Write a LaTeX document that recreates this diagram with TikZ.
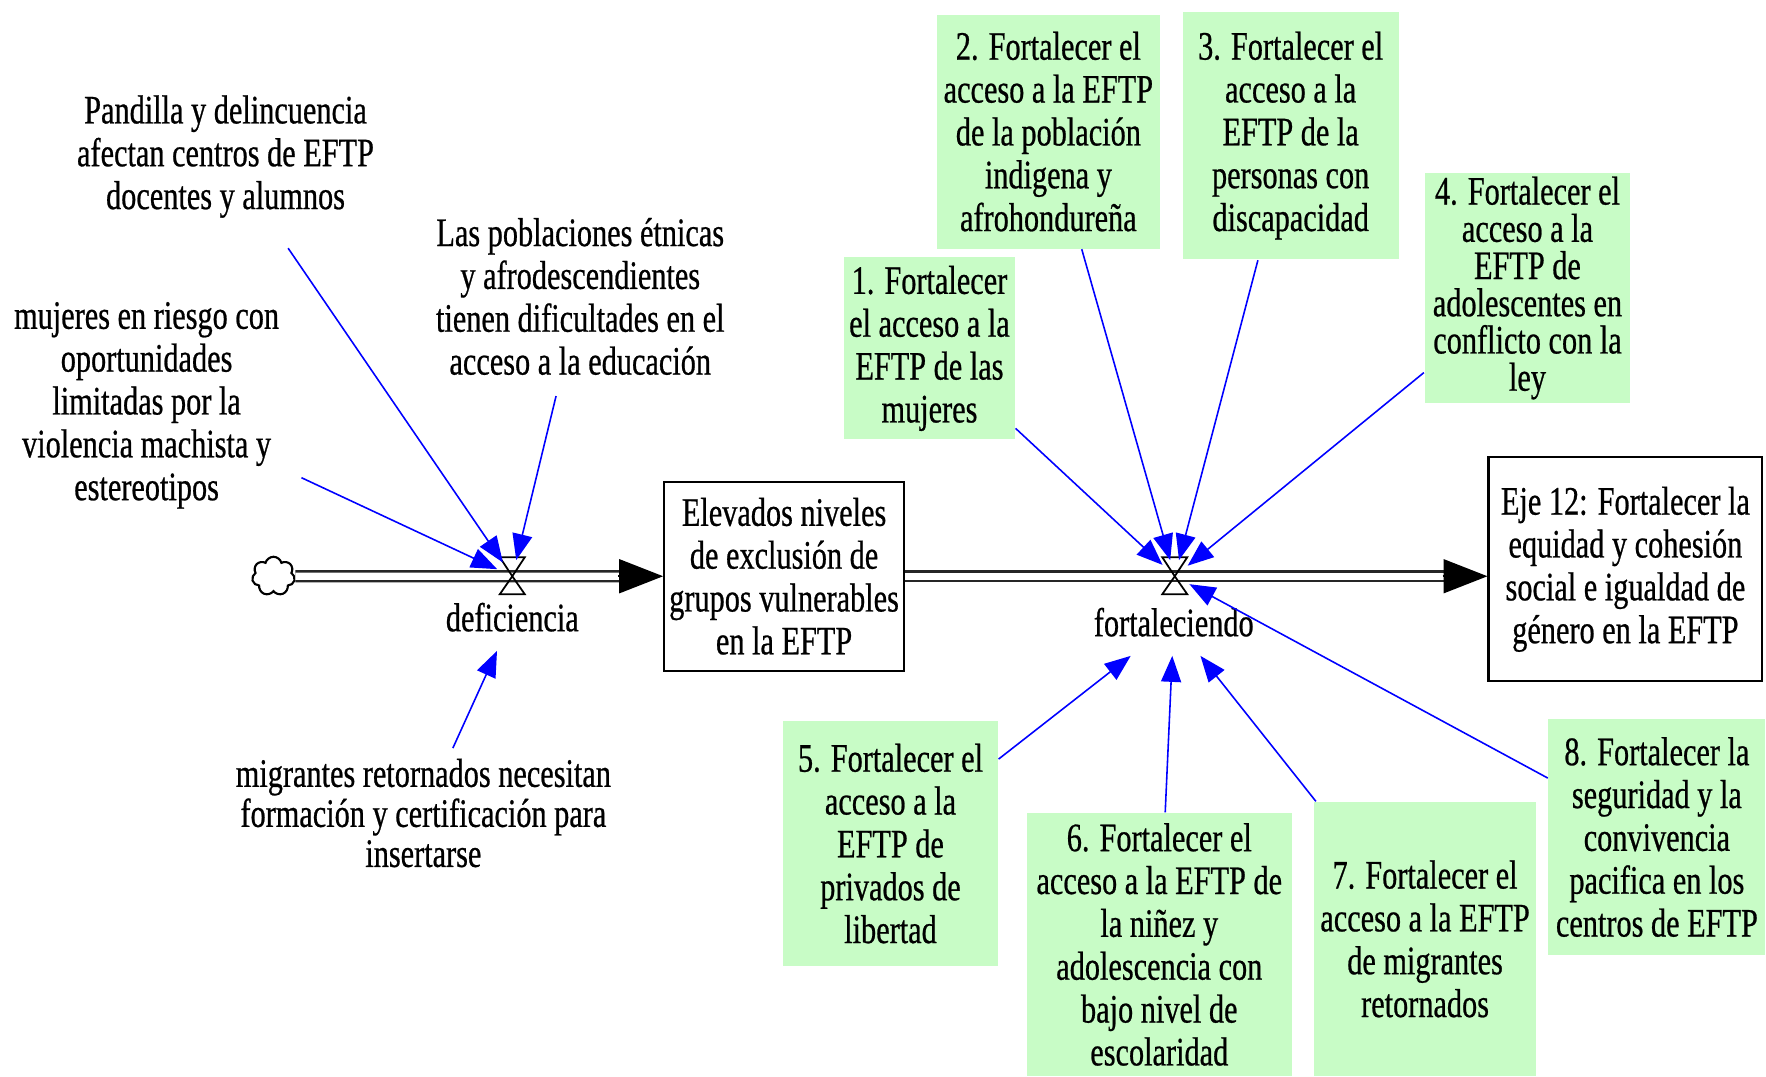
\documentclass[tikz,border=0pt]{standalone}
\usepackage{fontspec}
\setmainfont{Liberation Serif}[FakeStretch=0.75,FakeBold=0.6]
\usepackage{xcolor}
\usetikzlibrary{arrows.meta,shapes.symbols}

\definecolor{verdeclaro}{RGB}{200,252,198}

\begin{document}
\begin{tikzpicture}[
        texto/.style={align=center, inner sep=0pt, font=\fontsize{11.5}{12.2}\selectfont},
        nivel/.style={texto, draw, fill=white, line width=0.6pt},
        caja/.style={texto, fill=verdeclaro},
        valvula/.style={circle, minimum size=3.2mm, inner sep=0pt},
        etiqueta/.style={texto, minimum height=6.6mm},
        tubo/.style={draw=black!85, double=white, double distance=0.75mm, line width=0.25mm},
        punta/.style={line width=0.5pt, -{Triangle[length=4.4mm,width=3.4mm]}},
        causa/.style={blue, line width=0.45pt, -{Triangle[length=2.6mm,width=2mm]}}
    ]
            \filldraw[white] (0,0) rectangle (17.66,10.76);
            \useasboundingbox (0,0) rectangle (17.66,10.76);

            % flujo principal
            \node[cloud, cloud puffs=7, draw, line width=0.6pt, minimum width=4.3mm, minimum height=3.9mm, inner sep=0pt] (nube) at (2.73,5.00) {};
            \node[valvula] (vdef) at (5.12,5.00) {};
            \node[valvula] (vfor) at (11.75,5.00) {};
            \node[nivel, minimum width=2.40cm, minimum height=1.89cm] (exclusion) at (7.84,5.00) {Elevados niveles\\de exclusión de\\grupos vulnerables\\en la EFTP};
            \node[nivel, minimum width=2.74cm, minimum height=2.24cm] (eje12) at (16.26,5.07) {Eje 12: Fortalecer la\\equidad y cohesión\\social e igualdad de\\género en la EFTP};
            \coordinate (entradaeje) at (vfor -| eje12.west);

            \draw[tubo, shorten >=4.2mm] (nube) -- (exclusion);
            \draw[punta] ([xshift=-4.5mm]exclusion.west) -- (exclusion.west);
            \draw[tubo, shorten >=4.2mm] (exclusion.east) -- (entradaeje);
            \draw[punta] ([xshift=-4.5mm]entradaeje) -- (entradaeje);

            \foreach \v in {vdef,vfor}
                \draw[line width=0.5pt] (\v.center) -- ++(-1.25mm,1.9mm) -- ++(2.5mm,0) -- cycle
                    (\v.center) -- ++(-1.25mm,-1.8mm) -- ++(2.5mm,0) -- cycle;

            \node[etiqueta] (ldef) at (5.12,4.59) {deficiencia};
            \node[etiqueta] (lfor) at (11.74,4.54) {fortaleciendo};

            % causas de la deficiencia
            \node[texto] (pandilla) at (2.25,9.20) {Pandilla y delincuencia\\afectan centros de EFTP\\docentes y alumnos};
            \node[texto] (etnicas) at (5.80,7.80) {Las poblaciones étnicas\\y afrodescendientes\\tienen dificultades en el\\acceso a la educación};
            \node[texto] (mujeres) at (1.46,6.71) {mujeres en riesgo con\\oportunidades\\limitadas por la\\violencia machista y\\estereotipos};
            \node[texto, font=\fontsize{11.5}{11.4}\selectfont] (migrantes) at (4.23,2.63) {migrantes retornados necesitan\\formación y certificación para\\insertarse};

            \draw[causa, shorten <=3.6mm] (pandilla) -- (vdef);
            \draw[causa, shorten <=2.4mm] (mujeres) -- (vdef);
            \draw[causa, shorten <=2.1mm] (etnicas) -- (vdef);
            \draw[causa, shorten <=1.1mm] (migrantes) -- (ldef);

            % lineas de fortalecimiento
            \node[caja, minimum width=1.71cm, minimum height=1.82cm] (linea1) at (9.295,7.28) {1. Fortalecer\\el acceso a la\\EFTP de las\\mujeres};
            \node[caja, minimum width=2.23cm, minimum height=2.34cm] (linea2) at (10.485,9.45) {2. Fortalecer el\\acceso a la EFTP\\de la población\\indigena y\\afrohondureña};
            \node[caja, minimum width=2.16cm, minimum height=2.48cm] (linea3) at (12.91,9.41) {3. Fortalecer el\\acceso a la\\EFTP de la\\personas con\\discapacidad};
            \node[caja, minimum width=2.06cm, minimum height=2.31cm, font=\fontsize{11.5}{10.6}\selectfont] (linea4) at (15.28,7.885) {4. Fortalecer el\\acceso a la\\EFTP de\\adolescentes en\\conflicto con la\\ley};
            \node[caja, minimum width=2.15cm, minimum height=2.45cm] (linea5) at (8.905,2.325) {5. Fortalecer el\\acceso a la\\EFTP de\\privados de\\libertad};
            \node[caja, minimum width=2.65cm, minimum height=2.63cm] (linea6) at (11.595,1.315) {6. Fortalecer el\\acceso a la EFTP de\\la niñez y\\adolescencia con\\bajo nivel de\\escolaridad};
            \node[caja, minimum width=2.23cm, minimum height=2.74cm] (linea7) at (14.255,1.37) {7. Fortalecer el\\acceso a la EFTP\\de migrantes\\retornados};
            \node[caja, minimum width=2.17cm, minimum height=2.36cm] (linea8) at (16.575,2.39) {8. Fortalecer la\\seguridad y la\\convivencia\\pacifica en los\\centros de EFTP};

            \draw[causa] (linea1) -- (vfor);
            \draw[causa] (linea2) -- (vfor);
            \draw[causa] (linea3) -- (vfor);
            \draw[causa] (linea4) -- (vfor);
            \draw[causa] (linea5) -- (lfor);
            \draw[causa] (linea6) -- (lfor);
            \draw[causa] (linea7) -- (lfor);
            \draw[causa] (linea8) -- (vfor);
\end{tikzpicture}
\end{document}
